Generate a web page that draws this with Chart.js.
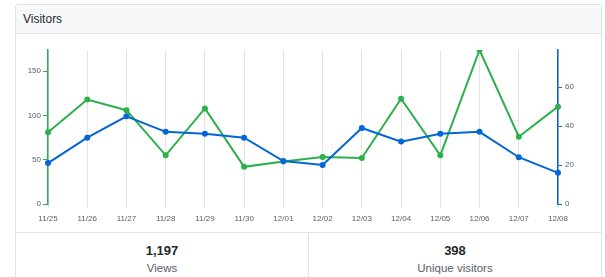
<!DOCTYPE html>
<html>
<head>
<meta charset="utf-8">
<script src="https://cdn.jsdelivr.net/npm/chart.js@4/dist/chart.umd.min.js"></script>
<style>
  html, body { margin: 0; padding: 0; background: #fff; }
  body { width: 605px; height: 277px; overflow: hidden; position: relative; font-family: "Liberation Sans", Arial, sans-serif; }
  .box { position: absolute; left: 15px; top: 4px; width: 585px; height: 290px; border: 1px solid #dfe2e5; border-radius: 3px; }
  .head { height: 28px; background: #f6f8fa; border-bottom: 1px solid #dfe2e5; color: #24292e; font-size: 12px; line-height: 28px; padding-left: 7px; }
  .chart-wrap { position: absolute; left: 0; top: 29px; width: 585px; height: 198px; }
  .stats { position: absolute; left: 0; top: 227px; width: 585px; border-top: 1px solid #e1e4e8; display: flex; }
  .stat { flex: 1; text-align: center; padding-top: 10px; }
  .stat + .stat { border-left: 1px solid #e1e4e8; height: 60px; }
  .num { font-size: 13px; font-weight: bold; color: #24292e; line-height: 16px; }
  .lbl { font-size: 11.5px; color: #586069; line-height: 18px; }
</style>
</head>
<body>
<div class="box">
  <div class="head">Visitors</div>
  <div class="chart-wrap"><canvas id="chart"></canvas></div>
  <div class="stats">
    <div class="stat"><div class="num" id="total-views"></div><div class="lbl">Views</div></div>
    <div class="stat"><div class="num" id="total-uniques"></div><div class="lbl">Unique visitors</div></div>
  </div>
</div>
<script>
const days = ["11/25", "11/26", "11/27", "11/28", "11/29", "11/30", "12/01", "12/02", "12/03", "12/04", "12/05", "12/06", "12/07", "12/08"];
const views = [81, 118, 106, 55, 108, 42, 48, 53, 52, 119, 55, 174, 76, 110];
const uniques = [21, 34, 45, 37, 36, 34, 22, 20, 39, 32, 36, 37, 24, 16];
const totalViews = "1,197";
const totalUniques = "398";

const GREEN = "#2cb04a";
const BLUE = "#0366d6";

document.getElementById("total-views").textContent = totalViews;
document.getElementById("total-uniques").textContent = totalUniques;

Chart.defaults.font.family = '"Liberation Sans", Arial, sans-serif';
Chart.defaults.animation = false;

function fixWidth(w) {
  return (scale) => { scale.width = w; };
}

new Chart(document.getElementById("chart"), {
  type: "line",
  data: {
    labels: days,
    datasets: [
      {
        label: "Unique visitors",
        data: uniques,
        yAxisID: "yUniques",
        borderColor: BLUE,
        backgroundColor: BLUE,
        borderWidth: 2,
        pointRadius: 3,
        pointBorderWidth: 0,
        tension: 0,
      },
      {
        label: "Views",
        data: views,
        yAxisID: "yViews",
        borderColor: GREEN,
        backgroundColor: GREEN,
        borderWidth: 2,
        pointRadius: 3,
        pointBorderWidth: 0,
        tension: 0,
      },
    ],
  },
  options: {
    responsive: true,
    maintainAspectRatio: false,
    layout: { padding: { top: 16, left: 0, right: 0, bottom: 0 } },
    plugins: { legend: { display: false }, tooltip: { enabled: false } },
    scales: {
      x: {
        offset: false,
        grid: { color: "#e4e4e4", lineWidth: 1, tickLength: 4, drawTicks: true },
        border: { display: false },
        ticks: { color: "#586069", font: { size: 8 }, padding: 6, maxRotation: 0, autoSkip: false },
        afterFit: (scale) => { scale.height = 28; },
      },
      yViews: {
        position: "left",
        min: 0,
        max: 174,
        grid: { drawOnChartArea: false, drawTicks: true, tickLength: 5, color: GREEN },
        border: { display: true, color: GREEN, width: 1.5 },
        ticks: { stepSize: 50, color: "#586069", font: { size: 8 }, padding: 2 },
        afterBuildTicks: (scale) => { scale.ticks = scale.ticks.filter((t) => t.value % 50 === 0); },
        afterFit: fixWidth(32),
      },
      yUniques: {
        position: "right",
        min: 0,
        max: 79,
        grid: { drawOnChartArea: false, drawTicks: true, tickLength: 4, color: BLUE },
        border: { display: true, color: BLUE, width: 1.5 },
        ticks: { stepSize: 20, color: "#586069", font: { size: 8 }, padding: 3 },
        afterBuildTicks: (scale) => { scale.ticks = scale.ticks.filter((t) => t.value % 20 === 0); },
        afterFit: fixWidth(43),
      },
    },
  },
});
</script>
</body>
</html>
